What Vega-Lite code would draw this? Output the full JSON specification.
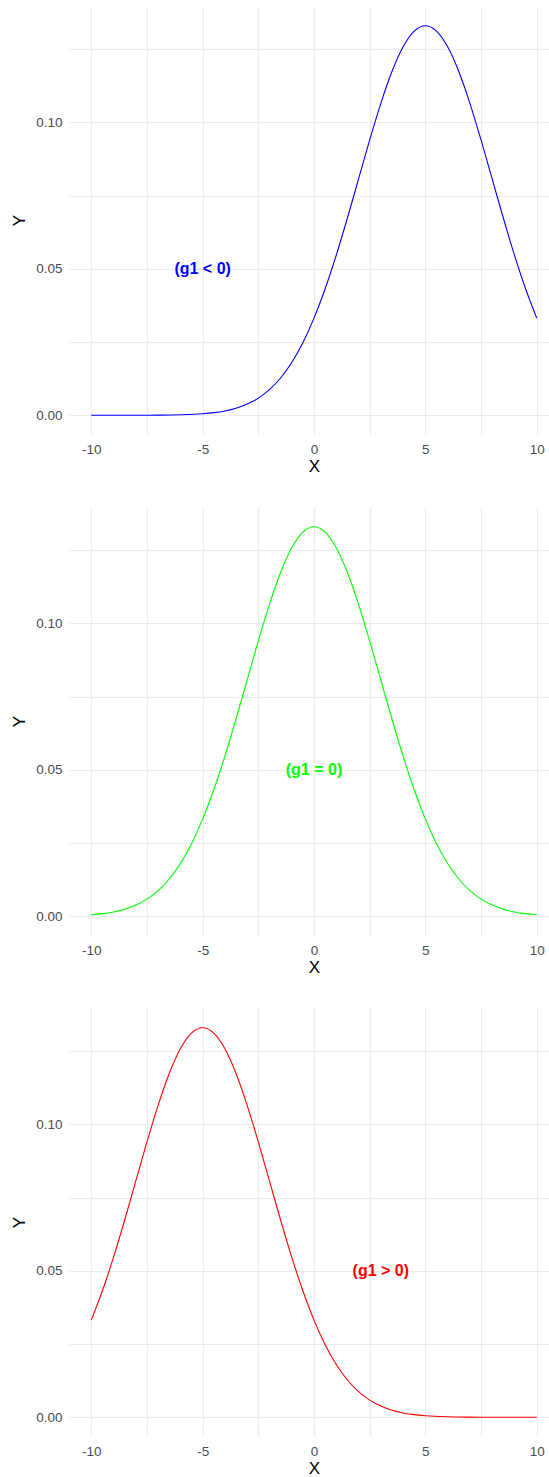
{
  "$schema": "https://vega.github.io/schema/vega-lite/v6.json",
  "autosize": {"type": "pad"},
  "padding": {"left": 10, "top": 6, "right": 0, "bottom": 0},
  "background": "white",
  "bounds": "flush",
  "spacing": 73,
  "config": {
    "view": {"stroke": null},
    "font": "Liberation Sans",
    "axis": {
      "domain": false,
      "ticks": false,
      "tickSize": 0,
      "grid": true,
      "gridColor": "#EBEBEB",
      "gridWidth": 1,
      "labelFont": "Liberation Sans",
      "labelFontSize": 13.5,
      "labelColor": "#4D4D4D",
      "titleFont": "Liberation Sans",
      "titleFontSize": 17,
      "titleFontWeight": "normal",
      "titleColor": "#000000"
    }
  },
  "datasets": {
    "curves": [
      {"g": "neg", "x": -10, "y": 0.0000005},
      {"g": "neg", "x": -9, "y": 0.0000025},
      {"g": "neg", "x": -8, "y": 0.0000111},
      {"g": "neg", "x": -7, "y": 0.0000446},
      {"g": "neg", "x": -6, "y": 0.000160},
      {"g": "neg", "x": -5, "y": 0.000514},
      {"g": "neg", "x": -4.5, "y": 0.000884},
      {"g": "neg", "x": -4, "y": 0.001477},
      {"g": "neg", "x": -3.5, "y": 0.002402},
      {"g": "neg", "x": -3, "y": 0.003799},
      {"g": "neg", "x": -2.5, "y": 0.005843},
      {"g": "neg", "x": -2, "y": 0.008741},
      {"g": "neg", "x": -1.5, "y": 0.012718},
      {"g": "neg", "x": -1, "y": 0.017997},
      {"g": "neg", "x": -0.5, "y": 0.024770},
      {"g": "neg", "x": 0, "y": 0.033159},
      {"g": "neg", "x": 0.5, "y": 0.043173},
      {"g": "neg", "x": 1, "y": 0.054670},
      {"g": "neg", "x": 1.5, "y": 0.067333},
      {"g": "neg", "x": 2, "y": 0.080657},
      {"g": "neg", "x": 2.5, "y": 0.093971},
      {"g": "neg", "x": 3, "y": 0.106483},
      {"g": "neg", "x": 3.5, "y": 0.117355},
      {"g": "neg", "x": 4, "y": 0.125794},
      {"g": "neg", "x": 4.5, "y": 0.131147},
      {"g": "neg", "x": 5, "y": 0.132981},
      {"g": "neg", "x": 5.5, "y": 0.131147},
      {"g": "neg", "x": 6, "y": 0.125794},
      {"g": "neg", "x": 6.5, "y": 0.117355},
      {"g": "neg", "x": 7, "y": 0.106483},
      {"g": "neg", "x": 7.5, "y": 0.093971},
      {"g": "neg", "x": 8, "y": 0.080657},
      {"g": "neg", "x": 8.5, "y": 0.067333},
      {"g": "neg", "x": 9, "y": 0.054670},
      {"g": "neg", "x": 9.5, "y": 0.043173},
      {"g": "neg", "x": 10, "y": 0.033159},

      {"g": "zero", "x": -10, "y": 0.000514},
      {"g": "zero", "x": -9.5, "y": 0.000884},
      {"g": "zero", "x": -9, "y": 0.001477},
      {"g": "zero", "x": -8.5, "y": 0.002402},
      {"g": "zero", "x": -8, "y": 0.003799},
      {"g": "zero", "x": -7.5, "y": 0.005843},
      {"g": "zero", "x": -7, "y": 0.008741},
      {"g": "zero", "x": -6.5, "y": 0.012718},
      {"g": "zero", "x": -6, "y": 0.017997},
      {"g": "zero", "x": -5.5, "y": 0.024770},
      {"g": "zero", "x": -5, "y": 0.033159},
      {"g": "zero", "x": -4.5, "y": 0.043173},
      {"g": "zero", "x": -4, "y": 0.054670},
      {"g": "zero", "x": -3.5, "y": 0.067333},
      {"g": "zero", "x": -3, "y": 0.080657},
      {"g": "zero", "x": -2.5, "y": 0.093971},
      {"g": "zero", "x": -2, "y": 0.106483},
      {"g": "zero", "x": -1.5, "y": 0.117355},
      {"g": "zero", "x": -1, "y": 0.125794},
      {"g": "zero", "x": -0.5, "y": 0.131147},
      {"g": "zero", "x": 0, "y": 0.132981},
      {"g": "zero", "x": 0.5, "y": 0.131147},
      {"g": "zero", "x": 1, "y": 0.125794},
      {"g": "zero", "x": 1.5, "y": 0.117355},
      {"g": "zero", "x": 2, "y": 0.106483},
      {"g": "zero", "x": 2.5, "y": 0.093971},
      {"g": "zero", "x": 3, "y": 0.080657},
      {"g": "zero", "x": 3.5, "y": 0.067333},
      {"g": "zero", "x": 4, "y": 0.054670},
      {"g": "zero", "x": 4.5, "y": 0.043173},
      {"g": "zero", "x": 5, "y": 0.033159},
      {"g": "zero", "x": 5.5, "y": 0.024770},
      {"g": "zero", "x": 6, "y": 0.017997},
      {"g": "zero", "x": 6.5, "y": 0.012718},
      {"g": "zero", "x": 7, "y": 0.008741},
      {"g": "zero", "x": 7.5, "y": 0.005843},
      {"g": "zero", "x": 8, "y": 0.003799},
      {"g": "zero", "x": 8.5, "y": 0.002402},
      {"g": "zero", "x": 9, "y": 0.001477},
      {"g": "zero", "x": 9.5, "y": 0.000884},
      {"g": "zero", "x": 10, "y": 0.000514},

      {"g": "pos", "x": -10, "y": 0.033159},
      {"g": "pos", "x": -9.5, "y": 0.043173},
      {"g": "pos", "x": -9, "y": 0.054670},
      {"g": "pos", "x": -8.5, "y": 0.067333},
      {"g": "pos", "x": -8, "y": 0.080657},
      {"g": "pos", "x": -7.5, "y": 0.093971},
      {"g": "pos", "x": -7, "y": 0.106483},
      {"g": "pos", "x": -6.5, "y": 0.117355},
      {"g": "pos", "x": -6, "y": 0.125794},
      {"g": "pos", "x": -5.5, "y": 0.131147},
      {"g": "pos", "x": -5, "y": 0.132981},
      {"g": "pos", "x": -4.5, "y": 0.131147},
      {"g": "pos", "x": -4, "y": 0.125794},
      {"g": "pos", "x": -3.5, "y": 0.117355},
      {"g": "pos", "x": -3, "y": 0.106483},
      {"g": "pos", "x": -2.5, "y": 0.093971},
      {"g": "pos", "x": -2, "y": 0.080657},
      {"g": "pos", "x": -1.5, "y": 0.067333},
      {"g": "pos", "x": -1, "y": 0.054670},
      {"g": "pos", "x": -0.5, "y": 0.043173},
      {"g": "pos", "x": 0, "y": 0.033159},
      {"g": "pos", "x": 0.5, "y": 0.024770},
      {"g": "pos", "x": 1, "y": 0.017997},
      {"g": "pos", "x": 1.5, "y": 0.012718},
      {"g": "pos", "x": 2, "y": 0.008741},
      {"g": "pos", "x": 2.5, "y": 0.005843},
      {"g": "pos", "x": 3, "y": 0.003799},
      {"g": "pos", "x": 3.5, "y": 0.002402},
      {"g": "pos", "x": 4, "y": 0.001477},
      {"g": "pos", "x": 4.5, "y": 0.000884},
      {"g": "pos", "x": 5, "y": 0.000514},
      {"g": "pos", "x": 6, "y": 0.000160},
      {"g": "pos", "x": 7, "y": 0.0000446},
      {"g": "pos", "x": 8, "y": 0.0000111},
      {"g": "pos", "x": 9, "y": 0.0000025},
      {"g": "pos", "x": 10, "y": 0.0000005}
    ],
    "labels": [
      {"g": "neg", "x": -5, "y": 0.05, "label": "(g1 < 0)"},
      {"g": "zero", "x": 0, "y": 0.05, "label": "(g1 = 0)"},
      {"g": "pos", "x": 3, "y": 0.05, "label": "(g1 > 0)"}
    ]
  },
  "vconcat": [
    {
      "width": 490,
      "height": 428,
      "encoding": {
        "x": {"field": "x", "type": "quantitative", "scale": {"domain": [-11, 11], "nice": false, "zero": false},
              "axis": {"title": "X", "values": [-10, -7.5, -5, -2.5, 0, 2.5, 5, 7.5, 10], "labelExpr": "datum.value % 5 == 0 ? '' + datum.value : ''", "labelPadding": 8, "titlePadding": 3}},
        "y": {"field": "y", "type": "quantitative", "scale": {"domain": [-0.0064, 0.1397], "nice": false, "zero": false},
              "axis": {"title": "Y", "values": [0, 0.025, 0.05, 0.075, 0.1, 0.125], "labelExpr": "datum.value == 0 || datum.value == 0.05 || datum.value == 0.1 ? format(datum.value, '.2f') : ''", "labelPadding": 7, "titlePadding": 7}}
      },
      "layer": [
        {"data": {"name": "curves"}, "transform": [{"filter": "datum.g == 'neg'"}],
         "mark": {"type": "line", "color": "#0000FF", "strokeWidth": 1.1, "interpolate": "monotone"}},
        {"data": {"name": "labels"}, "transform": [{"filter": "datum.g == 'neg'"}],
         "mark": {"type": "text", "color": "#0000FF", "fontWeight": "bold", "fontSize": 16, "font": "Liberation Sans", "align": "center", "baseline": "middle"},
         "encoding": {"text": {"field": "label"}}}
      ]
    },
    {
      "width": 490,
      "height": 428,
      "encoding": {
        "x": {"field": "x", "type": "quantitative", "scale": {"domain": [-11, 11], "nice": false, "zero": false},
              "axis": {"title": "X", "values": [-10, -7.5, -5, -2.5, 0, 2.5, 5, 7.5, 10], "labelExpr": "datum.value % 5 == 0 ? '' + datum.value : ''", "labelPadding": 8, "titlePadding": 3}},
        "y": {"field": "y", "type": "quantitative", "scale": {"domain": [-0.0064, 0.1397], "nice": false, "zero": false},
              "axis": {"title": "Y", "values": [0, 0.025, 0.05, 0.075, 0.1, 0.125], "labelExpr": "datum.value == 0 || datum.value == 0.05 || datum.value == 0.1 ? format(datum.value, '.2f') : ''", "labelPadding": 7, "titlePadding": 7}}
      },
      "layer": [
        {"data": {"name": "curves"}, "transform": [{"filter": "datum.g == 'zero'"}],
         "mark": {"type": "line", "color": "#00FF00", "strokeWidth": 1.1, "interpolate": "monotone"}},
        {"data": {"name": "labels"}, "transform": [{"filter": "datum.g == 'zero'"}],
         "mark": {"type": "text", "color": "#00FF00", "fontWeight": "bold", "fontSize": 16, "font": "Liberation Sans", "align": "center", "baseline": "middle"},
         "encoding": {"text": {"field": "label"}}}
      ]
    },
    {
      "width": 490,
      "height": 428,
      "encoding": {
        "x": {"field": "x", "type": "quantitative", "scale": {"domain": [-11, 11], "nice": false, "zero": false},
              "axis": {"title": "X", "values": [-10, -7.5, -5, -2.5, 0, 2.5, 5, 7.5, 10], "labelExpr": "datum.value % 5 == 0 ? '' + datum.value : ''", "labelPadding": 8, "titlePadding": 3}},
        "y": {"field": "y", "type": "quantitative", "scale": {"domain": [-0.0064, 0.1397], "nice": false, "zero": false},
              "axis": {"title": "Y", "values": [0, 0.025, 0.05, 0.075, 0.1, 0.125], "labelExpr": "datum.value == 0 || datum.value == 0.05 || datum.value == 0.1 ? format(datum.value, '.2f') : ''", "labelPadding": 7, "titlePadding": 7}}
      },
      "layer": [
        {"data": {"name": "curves"}, "transform": [{"filter": "datum.g == 'pos'"}],
         "mark": {"type": "line", "color": "#FF0000", "strokeWidth": 1.1, "interpolate": "monotone"}},
        {"data": {"name": "labels"}, "transform": [{"filter": "datum.g == 'pos'"}],
         "mark": {"type": "text", "color": "#FF0000", "fontWeight": "bold", "fontSize": 16, "font": "Liberation Sans", "align": "center", "baseline": "middle"},
         "encoding": {"text": {"field": "label"}}}
      ]
    }
  ]
}
